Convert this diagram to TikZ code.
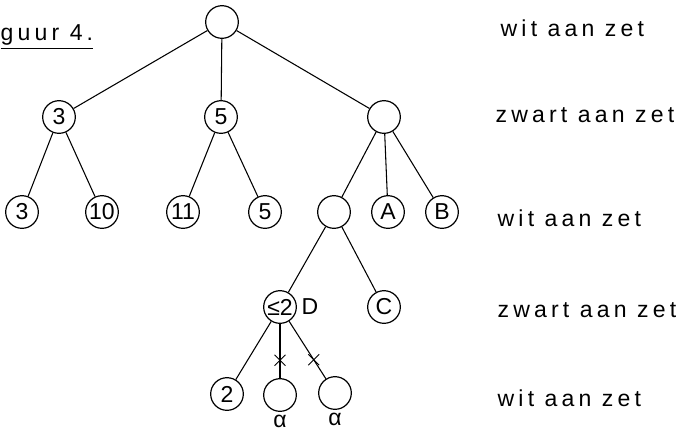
\documentclass[tikz,border=0pt]{standalone}
\usepackage{amsmath}
\usepackage{fontspec}
\setmainfont{Liberation Sans}
\newfontfamily\handfont{Liberation Sans}[LetterSpace=18]
\usetikzlibrary{positioning, shapes.misc}

\begin{document}
\begin{tikzpicture}[x=0.75pt, y=-0.75pt,
        state/.style={circle, draw, line width=0.9pt, minimum size=24.5pt, inner sep=0pt, font=\LARGE},
        edge/.style={line width=0.8pt},
        cut/.style={cross out, draw, line width=0.7pt, minimum size=7.5pt, inner sep=0pt},
        turn/.style={anchor=west, font=\LARGE\handfont}
    ]
        \useasboundingbox (0,0) rectangle (689,433);

        % game tree
        \node[state] (root) at (222,22) {};
        \node[state] (a) at (59,117) {3};
        \node[state] (b) at (221,117) {5};
        \node[state] (c) at (384,117) {};
        \node[state] (a1) at (22,212) {3};
        \node[state] (a2) at (102,212) {10};
        \node[state] (b1) at (183,212) {11};
        \node[state] (b2) at (265,212) {5};
        \node[state] (c1) at (334,212) {};
        \node[state] (c2) at (388,212) {A};
        \node[state] (c3) at (442,212) {B};
        \node[state] (d) at (280,307) {≤2};
        \node[state] (e) at (384,307) {C};
        \node[state] (d1) at (227,394) {2};
        \node[state] (d2) at (280,395) {};
        \node[state] (d3) at (335,393) {};

        \node[right=0pt of d, font=\LARGE] (dlab) {D};
        \node[below=-1pt of d2, font=\LARGE] (alpha1) {α};
        \node[below=-1pt of d3, font=\LARGE] (alpha2) {α};

        \foreach \p/\q in {root/a, root/b, root/c, a/a1, a/a2, b/b1, b/b2,
                c/c1, c/c2, c/c3, c1/d, c1/e, d/d1}
            \draw[edge] (\p) -- (\q);
        \draw[edge] (d) -- node[cut, pos=.67] (cut1) {} (d2);
        \draw[edge] (d) -- node[cut, pos=.67] (cut2) {} (d3);

        % caption and side to move
        \node[anchor=base west, font=\LARGE\handfont] (fig) at (-4,40) {\underline{guur 4.}};
        \node[turn] (t0) at (496,28) {wit aan zet};
        \node[turn] (t1) at (491,115) {zwart aan zet};
        \node[turn] (t2) at (493,218) {wit aan zet};
        \node[turn] (t3) at (493,310) {zwart aan zet};
        \node[turn] (t4) at (493,398) {wit aan zet};
    \end{tikzpicture}
\end{document}
